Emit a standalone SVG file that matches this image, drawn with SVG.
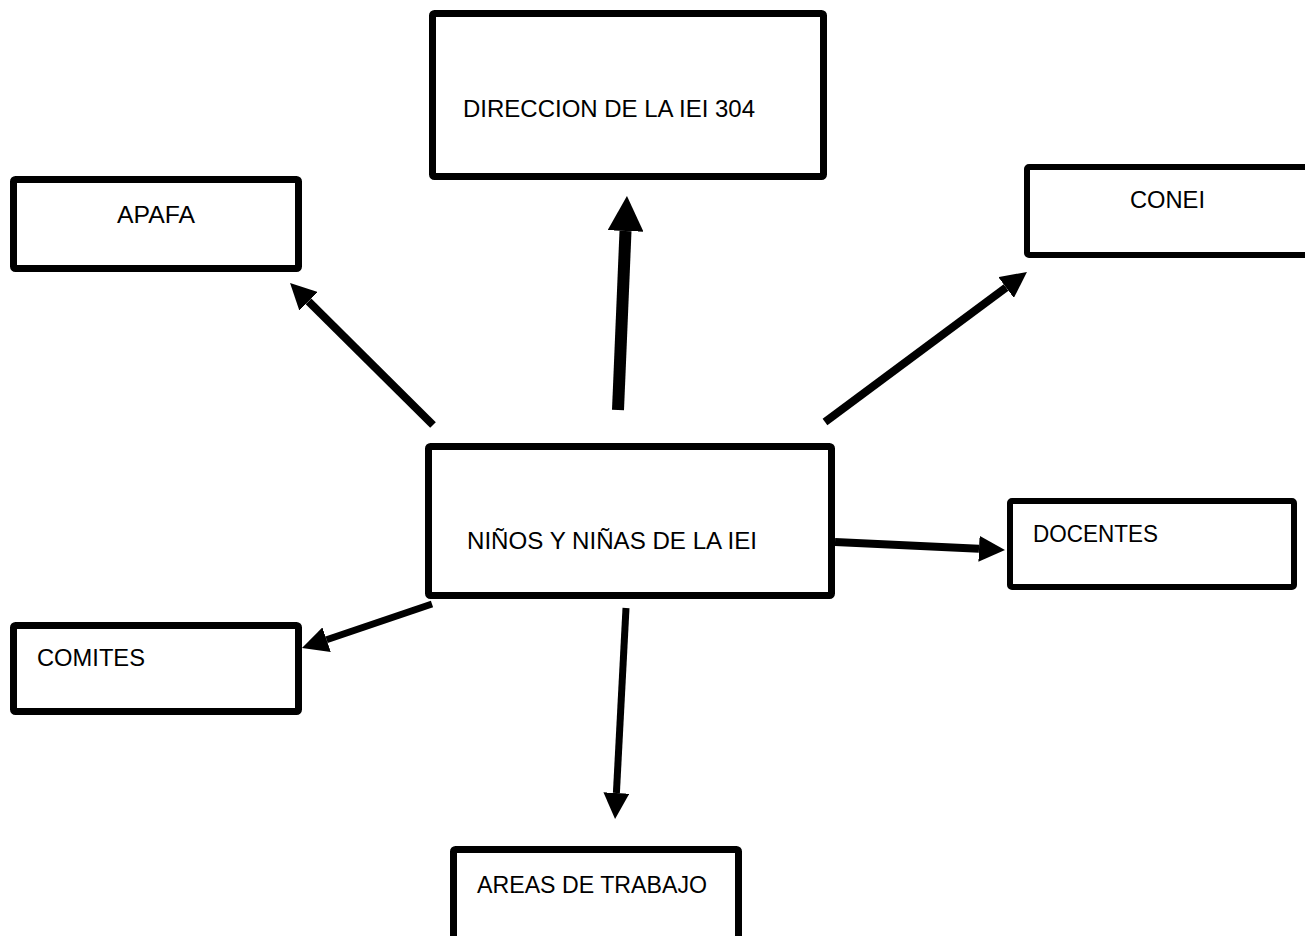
<svg xmlns="http://www.w3.org/2000/svg" width="1305" height="936" viewBox="0 0 1305 936">
<style>
.box{fill:#fff;stroke:#000;stroke-width:7;stroke-linejoin:round}
.thin{stroke-width:6}
.lbl{font-family:"Liberation Sans",Arial,sans-serif;font-size:23.5px;fill:#000}
.ar{stroke:#000;stroke-width:8;fill:none}
</style>
<defs>
<marker id="h" viewBox="0 -13 26 26" refX="0" refY="0" markerWidth="26" markerHeight="26" markerUnits="userSpaceOnUse" orient="auto"><path d="M0,-13 L26,0 L0,13 z" fill="#000"/></marker>
<marker id="hb" viewBox="0 -18 35 36" refX="0" refY="0" markerWidth="35" markerHeight="36" markerUnits="userSpaceOnUse" orient="auto"><path d="M0,-18 L35,0 L0,18 z" fill="#000"/></marker>
</defs>
<rect width="1305" height="936" fill="#fff"/>
<g id="connectors">
<line class="ar" x1="433" y1="425" x2="308.5" y2="301.3" marker-end="url(#h)"/>
<line class="ar" x1="825" y1="422" x2="1006.1" y2="287.5" marker-end="url(#h)"/>
<line class="ar" x1="835" y1="542" x2="979" y2="548.8" marker-end="url(#h)"/>
<line class="ar" style="stroke-width:7" x1="432" y1="604" x2="326.6" y2="639.7" marker-end="url(#h)"/>
<line class="ar" style="stroke-width:7" x1="626" y1="608" x2="616.4" y2="793" marker-end="url(#h)"/>
<line class="ar" style="stroke-width:12" x1="618" y1="410" x2="625.5" y2="231" marker-end="url(#hb)"/>
</g>
<g id="direccion">
<rect class="box" x="432.5" y="13.5" width="391" height="163" rx="2"/>
<text class="lbl" x="463" y="117" textLength="292" lengthAdjust="spacingAndGlyphs">DIRECCION DE LA IEI 304</text>
</g>
<g id="conei">
<rect class="box thin" x="1027" y="167" width="300" height="88" rx="2"/>
<text class="lbl" x="1130" y="208" textLength="75" lengthAdjust="spacingAndGlyphs">CONEI</text>
</g>
<g id="apafa">
<rect class="box" x="13.5" y="179.5" width="285" height="89" rx="2"/>
<text class="lbl" x="117" y="223" textLength="78" lengthAdjust="spacingAndGlyphs">APAFA</text>
</g>
<g id="ninos">
<rect class="box" x="428.5" y="446.5" width="403" height="149" rx="2"/>
<text class="lbl" x="467" y="549" textLength="290" lengthAdjust="spacingAndGlyphs">NIÑOS Y NIÑAS DE LA IEI</text>
</g>
<g id="docentes">
<rect class="box thin" x="1010" y="501" width="284" height="86" rx="2"/>
<text class="lbl" x="1033" y="542" textLength="125" lengthAdjust="spacingAndGlyphs">DOCENTES</text>
</g>
<g id="comites">
<rect class="box" x="13.5" y="625.5" width="285" height="86" rx="2"/>
<text class="lbl" x="37" y="666" textLength="108" lengthAdjust="spacingAndGlyphs">COMITES</text>
</g>
<g id="areas">
<rect class="box" x="453.5" y="849.5" width="285" height="120" rx="2"/>
<text class="lbl" x="477" y="893" textLength="230" lengthAdjust="spacingAndGlyphs">AREAS DE TRABAJO</text>
</g>
</svg>
